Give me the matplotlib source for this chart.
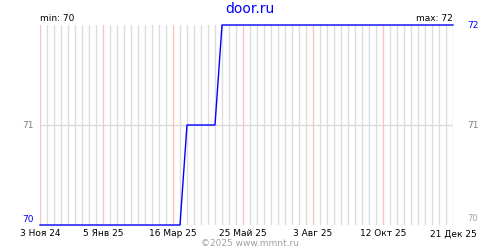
import matplotlib
matplotlib.use("Agg")
import matplotlib.pyplot as plt
import pandas as pd

# Price points (weekly series, only the corners of the line)
dates = pd.to_datetime(["2024-11-03", "2025-03-23", "2025-03-30",
                        "2025-04-27", "2025-05-04", "2025-12-21"])
values = [70, 70, 71, 71, 72, 72]

# Axis labels
tick_dates = pd.to_datetime(["2024-11-03", "2025-01-05", "2025-03-16",
                             "2025-05-25", "2025-08-03", "2025-10-12", "2025-12-21"])
tick_labels = ["3 Ноя 24", "5 Янв 25", "16 Мар 25", "25 Май 25",
               "3 Авг 25", "12 Окт 25", "21 Дек 25"]
week_lines = pd.date_range("2024-11-03", "2025-12-21", freq="7D")

fig = plt.figure(figsize=(5, 2.5), dpi=100)
ax = fig.add_axes([0.08, 0.1, 0.826, 0.8])

pink = set(tick_dates.strftime("%Y-%m-%d"))
for d in week_lines:
    if d.strftime("%Y-%m-%d") in pink:
        ax.axvline(d, color="#ffc0c0", lw=1, zorder=2, snap=True)
    else:
        ax.axvline(d, color="#dcdcdc", lw=1, zorder=1, snap=True)
ax.axhline(71, color="#dcdcdc", lw=1, zorder=1, snap=True)

ax.plot(dates, values, color="#0000ff", lw=1, zorder=3, clip_on=False)

ax.set_xlim(dates[0], dates[-1])
ax.set_ylim(70, 72)
for s in ax.spines.values():
    s.set_visible(False)
ax.set_xticks(tick_dates)
ax.set_xticklabels(tick_labels, fontsize=6.5)
ax.tick_params(axis="x", length=0, pad=3)
ax.set_yticks([])

# y labels
ax.text(-0.015, 0.005, "70", transform=ax.transAxes, ha="right", va="bottom",
        fontsize=6.5, color="#0000ff")
ax.text(-0.015, 0.5, "71", transform=ax.transAxes, ha="right", va="center",
        fontsize=6.5, color="#808080")
ax.text(1.035, 1.0, "72", transform=ax.transAxes, ha="left", va="center",
        fontsize=6.5, color="#0000ff")
ax.text(1.035, 0.5, "71", transform=ax.transAxes, ha="left", va="center",
        fontsize=6.5, color="#808080")
ax.text(1.035, 0.01, "70", transform=ax.transAxes, ha="left", va="bottom",
        fontsize=6, color="#a0a0a0")

ax.text(0.0, 1.01, "min: 70", transform=ax.transAxes, ha="left", va="bottom",
        fontsize=6.5, color="black")
ax.text(1.0, 1.01, "max: 72", transform=ax.transAxes, ha="right", va="bottom",
        fontsize=6.5, color="black")

fig.text(0.5, 0.965, "door.ru", ha="center", va="center", fontsize=10, color="#0000ff")
fig.text(0.5, 0.025, "©2025 www.mmnt.ru", ha="center", va="center",
         fontsize=6.5, color="#a0a0a0")

fig.savefig("out.png", dpi=100)
